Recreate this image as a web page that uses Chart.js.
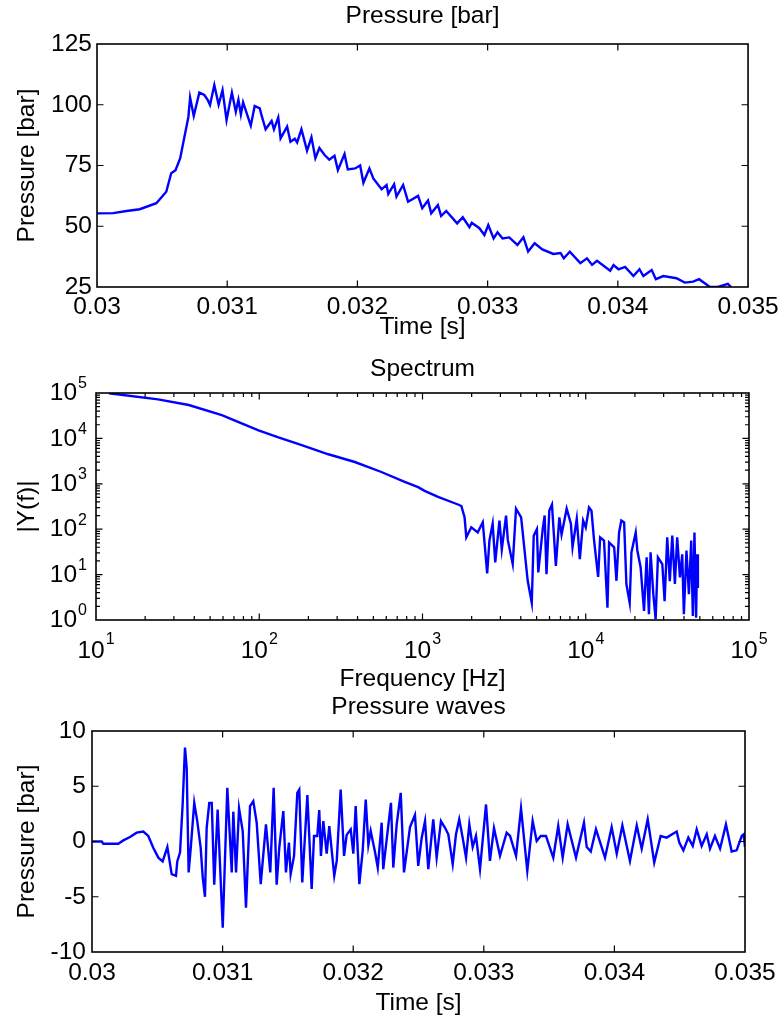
<!DOCTYPE html>
<html>
<head>
<meta charset="utf-8">
<script src="https://cdn.jsdelivr.net/npm/chart.js@4.4.1/dist/chart.umd.min.js"></script>
<style>
  html, body { margin: 0; padding: 0; background: #fff; }
  #wrap { position: relative; width: 784px; height: 1025px; }
  #wrap canvas { position: absolute; left: 0; top: 0; }
</style>
</head>
<body>
<div id="wrap">
  <canvas id="c1" width="784" height="1025"></canvas>
  <canvas id="c2" width="784" height="1025"></canvas>
  <canvas id="c3" width="784" height="1025"></canvas>
</div>
<script>
// ---------- Data: Pressure [bar] ----------
const pressureTime = [0.030002,0.030124,0.030227,0.030328,0.030456,0.030532,0.030570,0.030603,0.030639,0.030672,0.030702,0.030715,0.030743,0.030786,0.030824,0.030850,0.030868,0.030901,0.030934,0.030964,0.030995,0.031036,0.031066,0.031086,0.031105,0.031122,0.031181,0.031211,0.031250,0.031265,0.031295,0.031341,0.031359,0.031392,0.031410,0.031460,0.031486,0.031519,0.031537,0.031570,0.031613,0.031647,0.031677,0.031708,0.031748,0.031784,0.031824,0.031850,0.031901,0.031926,0.031982,0.032021,0.032046,0.032092,0.032122,0.032186,0.032224,0.032237,0.032282,0.032300,0.032351,0.032389,0.032466,0.032498,0.032542,0.032567,0.032618,0.032643,0.032682,0.032766,0.032809,0.032860,0.032878,0.032937,0.032975,0.033005,0.033046,0.033076,0.033115,0.033166,0.033229,0.033275,0.033311,0.033361,0.033420,0.033504,0.033560,0.033585,0.033631,0.033712,0.033763,0.033802,0.033840,0.033941,0.033967,0.034005,0.034056,0.034120,0.034166,0.034196,0.034260,0.034292,0.034349,0.034450,0.034514,0.034578,0.034624,0.034705,0.034769,0.034845,0.034870];
const pressureValues = [55.3,55.4,56.3,57.0,59.5,64.2,71.8,73.1,78.0,86.9,95.0,103.0,95.4,105.0,104.0,102.0,99.9,108.1,100.0,106.0,93.7,105.0,97.1,102.0,96.0,101.0,91.4,99.5,98.5,95.4,89.9,93.3,89.9,94.8,86.2,91.0,84.8,86.0,84.5,89.9,81.1,86.6,78.0,82.2,79.3,77.4,79.0,73.1,79.7,73.4,73.8,75.0,67.9,73.8,69.7,65.2,67.0,63.3,67.3,62.2,67.0,60.1,62.5,57.4,60.6,55.3,58.7,54.2,56.3,51.2,53.7,49.6,51.4,49.2,46.4,50.5,45.0,47.5,45.0,45.4,42.3,45.5,39.6,43.0,40.5,38.6,39.0,36.8,39.5,34.8,36.8,34.1,35.8,31.7,34.0,32.3,33.3,29.5,32.3,29.5,32.0,28.2,29.5,28.6,26.8,27.2,28.2,25.1,25.0,26.3,25.0];

// ---------- Data: Spectrum ----------
const specFreq = [12,24,37,59,78,99,131,182,265,385,560,778,940,1030,1245,1650,1730,1810,1855,1990,2180,2340,2490,2570,2690,2790,2960,3060,3250,3330,3570,3740,4020,4410,4670,4800,5020,5120,5450,5600,5750,5980,6210,6560,6890,7110,7640,8110,8300,8810,9200,9640,10000,10470,10840,11250,11910,12250,12940,13580,13900,14930,15420,16000,16520,17180,17740,18580,19050,20230,20700,21680,22750,23600,24380,24950,25940,26790,27670,29440,30410,31550,32730,33880,35160,36310,37760,38990,39900,41400,42850,44260,45290,46340,47420,48080,48640];
const specMag = [99000,72500,54300,32600,21400,15100,10500,7080,4470,3020,1820,1100,845,700,513,350,324,183,66,110,85,142,10.6,56,132,18.6,155,36,200,58,17,282,182,7.3,2.4,72,100,11.2,100,200,10.2,257,347,15.5,182,76,282,132,40,170,22,155,110,302,257,56,8.9,66,56,1.86,51,40,7.3,85,155,141,6.2,2.4,31,85,34,14.5,1.58,24,1.34,31,3.7,1.04,24,17,2.6,66,7.2,72,6.2,66,8.7,28,1.34,34,3.7,56,1.23,85,1.12,28,5.1];

// ---------- Data: Pressure waves ----------
const waveTime = [0.030005,0.030074,0.030087,0.030201,0.030240,0.030291,0.030342,0.030393,0.030431,0.030469,0.030508,0.030541,0.030577,0.030610,0.030643,0.030653,0.030674,0.030694,0.030712,0.030725,0.030740,0.030756,0.030783,0.030806,0.030832,0.030848,0.030865,0.030878,0.030898,0.030917,0.030936,0.030962,0.031001,0.031036,0.031070,0.031082,0.031103,0.031126,0.031154,0.031179,0.031210,0.031235,0.031261,0.031292,0.031332,0.031365,0.031391,0.031414,0.031434,0.031465,0.031485,0.031508,0.031521,0.031547,0.031572,0.031587,0.031610,0.031649,0.031682,0.031700,0.031725,0.031740,0.031753,0.031771,0.031797,0.031817,0.031855,0.031874,0.031904,0.031930,0.031950,0.031981,0.032001,0.032019,0.032047,0.032073,0.032096,0.032116,0.032134,0.032167,0.032188,0.032218,0.032230,0.032289,0.032307,0.032333,0.032364,0.032389,0.032435,0.032473,0.032498,0.032524,0.032550,0.032575,0.032613,0.032639,0.032672,0.032703,0.032728,0.032762,0.032787,0.032812,0.032838,0.032864,0.032889,0.032915,0.032940,0.032971,0.033017,0.033047,0.033078,0.033124,0.033175,0.033201,0.033247,0.033285,0.033333,0.033374,0.033405,0.033436,0.033476,0.033532,0.033570,0.033604,0.033642,0.033706,0.033767,0.033788,0.033819,0.033859,0.033928,0.033979,0.034018,0.034061,0.034119,0.034171,0.034209,0.034255,0.034305,0.034354,0.034400,0.034477,0.034497,0.034528,0.034566,0.034600,0.034630,0.034668,0.034707,0.034732,0.034770,0.034809,0.034854,0.034898,0.034936,0.034975,0.034990,0.035000];
const waveValues = [0,0,-0.2,-0.2,0.1,0.4,0.8,0.9,0.5,-0.56,-1.46,-1.8,-0.5,-2.96,-3.1,-1.8,-1.0,3.35,8.5,6.65,-2.8,-0.6,3.5,1.85,-0.56,-3.26,-5.0,1.24,3.5,3.5,-3.9,2.9,-7.8,4.85,-2.8,2.7,-2.8,3.0,0.95,-6.0,3.2,3.65,1.7,-3.86,1.55,-2.8,4.85,-3.9,-0.56,2.75,-2.8,-0.1,-2.96,-1.3,4.4,4.7,-3.7,4.2,-4.3,0.5,0.5,2.84,-1.3,1.85,-1.1,1.4,-3.1,-1.76,4.7,-1.3,0.6,1.1,-1.1,3.2,-3.86,-0.8,3.8,-0.3,0.95,-0.95,-2.36,1.7,-2.5,3.5,-2.36,1.55,4.4,-2.8,1.3,2.4,-2.2,0.3,1.85,-2.5,2.0,-1.46,1.85,1.24,0.65,-2.05,0.65,2.0,0.35,-1.46,1.55,-0.5,0.5,-2.5,3.35,-1.76,1.2,-1.3,0.8,0.5,-1.3,3.0,-2.66,1.85,0.05,0.5,0.5,-1.46,1.4,-1.46,1.55,-1.46,1.7,-0.5,-0.9,1.1,-1.46,1.3,-1.1,1.45,-1.76,1.45,-0.65,2.0,-1.9,0.5,0.35,0.9,-0.1,-0.8,0.35,-0.4,1.1,-0.4,0.65,-0.65,0.5,-0.65,1.55,-0.9,-0.8,0.5,0.65,-0.5];

// ---------- Ticks ----------
const timeTicks = [0.030,0.031,0.032,0.033,0.034,0.035];
const timeTickLabels = ['0.03','0.031','0.032','0.033','0.034','0.035'];
const pressureTicks = [25,50,75,100,125];
const pressureTickLabels = ['25','50','75','100','125'];
const waveTicks = [-10,-5,0,5,10];
const waveTickLabels = ['-10','-5','0','5','10'];
const freqDecades = [10,100,1000,10000,100000];
const freqExponents = ['1','2','3','4','5'];
const magDecades = [1,10,100,1000,10000,100000];
const magExponents = ['0','1','2','3','4','5'];

// ---------- Style ----------
const FONT = "'Liberation Sans', Arial, Helvetica, sans-serif";
const FS = 24.5;
const HALF_LH = FS * 1.2 / 2;
const EXP_FS = 16;
const LINE_BLUE = '#0000ff';
Chart.defaults.font.family = FONT;
Chart.defaults.color = '#000';

function minorLog(decades) {
  const out = [];
  for (let i = 0; i < decades.length - 1; i++)
    for (let k = 2; k <= 9; k++) out.push(decades[i] * k);
  return out;
}

const matlabAxes = {
  id: 'matlabAxes',
  afterDatasetsDraw(chart, args, o) {
    const {ctx, chartArea: a} = chart;
    const xs = chart.scales.x, ys = chart.scales.y;
    ctx.save();
    ctx.strokeStyle = '#000';
    ctx.lineWidth = 1.2;
    ctx.beginPath();
    const tick = (vals, len, horiz) => {
      (vals || []).forEach(v => {
        if (horiz) {
          const p = xs.getPixelForValue(v);
          if (p <= a.left + 1 || p >= a.right - 1) return;
          ctx.moveTo(p, a.bottom); ctx.lineTo(p, a.bottom - len);
          ctx.moveTo(p, a.top); ctx.lineTo(p, a.top + len);
        } else {
          const p = ys.getPixelForValue(v);
          if (p <= a.top + 1 || p >= a.bottom - 1) return;
          ctx.moveTo(a.left, p); ctx.lineTo(a.left + len, p);
          ctx.moveTo(a.right, p); ctx.lineTo(a.right - len, p);
        }
      });
    };
    tick(o.xMajor, 6.5, true); tick(o.xMinor, 4, true);
    tick(o.yMajor, 6.5, false); tick(o.yMinor, 4, false);
    ctx.stroke();
    ctx.lineWidth = 1.6;
    ctx.strokeRect(a.left, a.top, a.right - a.left, a.bottom - a.top);

    if (o.logLabels) {
      ctx.fillStyle = '#000';
      ctx.textAlign = 'left';
      ctx.textBaseline = 'middle';
      const measure = (e) => {
        ctx.font = FS + 'px ' + FONT;
        const wb = ctx.measureText('10').width;
        ctx.font = EXP_FS + 'px ' + FONT;
        const we = ctx.measureText(e).width;
        return {wb, we, total: wb + we + 1};
      };
      o.xMajor.forEach((v, i) => {
        const e = o.xExp[i];
        const m = measure(e);
        const px = xs.getPixelForValue(v);
        const sx = px - m.total / 2;
        ctx.font = FS + 'px ' + FONT;
        ctx.fillText('10', sx, a.bottom + 31.5);
        ctx.font = EXP_FS + 'px ' + FONT;
        ctx.fillText(e, sx + m.wb + 1, a.bottom + 20);
      });
      o.yMajor.forEach((v, i) => {
        const e = o.yExp[i];
        const m = measure(e);
        const py = ys.getPixelForValue(v);
        const sx = a.left - 9 - m.total;
        ctx.font = FS + 'px ' + FONT;
        ctx.fillText('10', sx, py + 0.5);
        ctx.font = EXP_FS + 'px ' + FONT;
        ctx.fillText(e, sx + m.wb + 1, py - 9);
      });
    }
    ctx.restore();
  }
};

function fixedTicks(vals) {
  return (scale) => { scale.ticks = vals.map(v => ({value: v})); };
}

function makeChart(id, cfg) {
  const titleFont = {size: FS, weight: 'normal', lineHeight: 1.2, family: FONT};
  const xScale = {
    type: cfg.xType, min: cfg.xMin, max: cfg.xMax,
    grid: {display: false, drawTicks: false},
    border: {display: false},
    afterBuildTicks: fixedTicks(cfg.xTicks),
    afterFit: (s) => { s.height = cfg.xHeight; },
    ticks: {
      display: !cfg.log, autoSkip: false, maxRotation: 0, minRotation: 0,
      padding: cfg.xTickPad, font: {size: FS, family: FONT}, color: '#000',
      callback: (v, i) => cfg.xLabels ? cfg.xLabels[i] : ''
    },
    title: {display: true, text: cfg.xTitle, font: titleFont, padding: 0, color: '#000'}
  };
  const yScale = {
    type: cfg.yType, min: cfg.yMin, max: cfg.yMax,
    grid: {display: false, drawTicks: false},
    border: {display: false},
    afterBuildTicks: fixedTicks(cfg.yTicks),
    afterFit: (s) => { s.width = cfg.yWidth; },
    ticks: {
      display: !cfg.log, autoSkip: false,
      padding: cfg.yTickPad, font: {size: FS, family: FONT}, color: '#000',
      callback: (v, i) => cfg.yLabels ? cfg.yLabels[i] : ''
    },
    title: {display: true, text: cfg.yTitle, font: titleFont, padding: 0, color: '#000'}
  };
  return new Chart(document.getElementById(id), {
    type: 'line',
    data: {
      datasets: [{
        data: cfg.xs.map((x, i) => ({x: x, y: cfg.ys[i]})),
        borderColor: LINE_BLUE, borderWidth: 2.4, pointRadius: 0,
        tension: 0, fill: false
      }]
    },
    options: {
      responsive: false, animation: false, devicePixelRatio: 1,
      parsing: false, normalized: true,
      layout: {padding: cfg.padding},
      scales: {x: xScale, y: yScale},
      plugins: {
        legend: {display: false},
        tooltip: {enabled: false},
        title: {display: true, fullSize: false, text: cfg.title, font: titleFont, color: '#000',
                padding: cfg.titlePad},
        matlabAxes: cfg.axes
      }
    },
    plugins: [matlabAxes]
  });
}

// Top: Pressure [bar]   area: L97 R751 T44 B287
const H1 = 327 - 287 + HALF_LH;
makeChart('c1', {
  title: 'Pressure [bar]', titlePad: {top: 16 - HALF_LH, bottom: 44 - 16 - HALF_LH},
  padding: {left: 13, right: 33, top: 0, bottom: 1025 - 287 - H1},
  xType: 'linear', xMin: 0.03, xMax: 0.035, xTicks: timeTicks, xLabels: timeTickLabels,
  xTitle: 'Time [s]', xHeight: H1, xTickPad: 307 - 287 - HALF_LH,
  yType: 'linear', yMin: 25, yMax: 125, yTicks: pressureTicks, yLabels: pressureTickLabels,
  yTitle: 'Pressure [bar]', yWidth: 84, yTickPad: 5,
  xs: pressureTime, ys: pressureValues,
  axes: {xMajor: timeTicks, yMajor: pressureTicks}
});

// Middle: Spectrum   area: L96 R749 T393 B620
const H2 = 679 - 620 + HALF_LH;
makeChart('c2', {
  title: 'Spectrum', titlePad: {top: 369 - 340 - HALF_LH, bottom: 393 - 369 - HALF_LH},
  padding: {left: 13, right: 35, top: 340, bottom: 1025 - 620 - H2},
  log: true,
  xType: 'logarithmic', xMin: 10, xMax: 100000, xTicks: freqDecades, xLabels: null,
  xTitle: 'Frequency [Hz]', xHeight: H2, xTickPad: 0,
  yType: 'logarithmic', yMin: 1, yMax: 100000, yTicks: magDecades, yLabels: null,
  yTitle: '|Y(f)|', yWidth: 83, yTickPad: 0,
  xs: specFreq, ys: specMag,
  axes: {xMajor: freqDecades, xMinor: minorLog(freqDecades), xExp: freqExponents,
         yMajor: magDecades, yMinor: minorLog(magDecades), yExp: magExponents,
         logLabels: true}
});

// Bottom: Pressure waves   area: L92 R745 T731 B952
const H3 = 1003 - 952 + HALF_LH;
makeChart('c3', {
  title: 'Pressure waves', titlePad: {top: 707 - 680 - HALF_LH, bottom: 731 - 707 - HALF_LH},
  padding: {left: 13, right: 39, top: 680, bottom: 1025 - 952 - H3},
  xType: 'linear', xMin: 0.03, xMax: 0.035, xTicks: timeTicks, xLabels: timeTickLabels,
  xTitle: 'Time [s]', xHeight: H3, xTickPad: 973.5 - 952 - HALF_LH,
  yType: 'linear', yMin: -10, yMax: 10, yTicks: waveTicks, yLabels: waveTickLabels,
  yTitle: 'Pressure [bar]', yWidth: 79, yTickPad: 6,
  xs: waveTime, ys: waveValues,
  axes: {xMajor: timeTicks, yMajor: waveTicks}
});
</script>
</body>
</html>
